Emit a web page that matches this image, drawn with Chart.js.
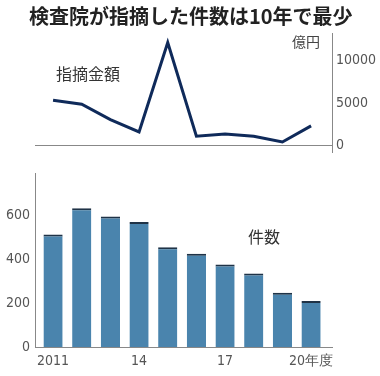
<!DOCTYPE html>
<html>
<head>
<meta charset="utf-8">
<script src="https://cdn.jsdelivr.net/npm/chart.js@4/dist/chart.umd.min.js"></script>
<style>
  body { margin: 0; background: #fff; width: 380px; height: 376px; position: relative; overflow: hidden; font-family: "Noto Sans CJK JP", sans-serif; }
  .txt { position: absolute; white-space: nowrap; color: #333; }
  #title { left: 29px; top: 1px; font-size: 20px; font-weight: bold; color: #222; }
  #unit { left: 292px; top: 31px; font-size: 14px; color: #444; }
  #lbl1 { left: 56px; top: 61px; font-size: 16px; color: #333; }
  #lbl2 { left: 248px; top: 224px; font-size: 16px; color: #333; }
  #c1 { position: absolute; left: 0; top: 0; }
  #c2 { position: absolute; left: 0; top: 160px; }
</style>
</head>
<body>
<canvas id="c1" width="380" height="165"></canvas>
<canvas id="c2" width="380" height="216"></canvas>
<div class="txt" id="title">検査院が指摘した件数は10年で最少</div>
<div class="txt" id="unit">億円</div>
<div class="txt" id="lbl1">指摘金額</div>
<div class="txt" id="lbl2">件数</div>
<script>
// 年度 2011〜2020
var years = ["2011", "12", "13", "14", "15", "16", "17", "18", "19", "20"];
var tickLabels = {0: "2011", 3: "14", 6: "17", 9: "20年度"};
var kingaku = [5330, 4860, 3040, 1580, 12170, 1070, 1340, 1070, 390, 2290]; // 億円
var kensu = [512, 631, 594, 569, 454, 424, 375, 334, 247, 209];

var tickFont = { family: "'Liberation Sans Narrow', 'DejaVu Sans Condensed', 'Roboto', sans-serif", size: 14 };
var gray = '#555';

var pts1 = kingaku.map(function (v, i) { return { x: i, y: v }; });
var pts2 = kensu.map(function (v, i) { return { x: i, y: v }; });

// 0の横線
var zeroLine = {
  id: 'zeroLine',
  beforeDatasetsDraw: function (chart) {
    var c = chart.ctx, a = chart.chartArea;
    var y = Math.round(chart.scales.y.getPixelForValue(0));
    c.save();
    c.strokeStyle = '#888';
    c.lineWidth = 1;
    c.beginPath();
    c.moveTo(a.left, y + 0.5);
    c.lineTo(a.right, y + 0.5);
    c.stroke();
    c.restore();
  }
};

new Chart(document.getElementById('c1'), {
  type: 'line',
  data: {
    datasets: [{
      data: pts1,
      borderColor: '#0f2a5a',
      borderWidth: 3,
      pointRadius: 0,
      tension: 0,
      borderJoinStyle: 'miter'
    }]
  },
  options: {
    responsive: false,
    animation: false,
    layout: { padding: { left: 35, top: 33, bottom: 13, right: 0 } },
    plugins: { legend: { display: false }, tooltip: { enabled: false } },
    scales: {
      x: { type: 'linear', min: -0.63, max: 9.73, display: false },
      y: {
        position: 'right',
        min: -800,
        max: 13300,
        afterFit: function (s) { s.width = 48; },
        afterBuildTicks: function (s) { s.ticks = [{ value: 0 }, { value: 5000 }, { value: 10000 }]; },
        grid: { display: false, drawTicks: false },
        border: { display: true, color: '#888', width: 1 },
        ticks: { color: gray, font: tickFont, padding: 4, callback: function (v) { return String(v); } }
      }
    }
  },
  plugins: [zeroLine]
});

new Chart(document.getElementById('c2'), {
  type: 'bar',
  data: {
    datasets: [{
      data: pts2,
      backgroundColor: '#4a84ad',
      borderColor: '#1f3347',
      borderWidth: { top: 2, left: 0, right: 0, bottom: 0 },
      borderSkipped: false,
      categoryPercentage: 1,
      barPercentage: 0.67
    }]
  },
  options: {
    responsive: false,
    animation: false,
    layout: { padding: { left: 0, top: 8, bottom: 0, right: 48 } },
    plugins: { legend: { display: false }, tooltip: { enabled: false } },
    scales: {
      x: {
        type: 'linear', min: -0.63, max: 9.73, offset: false,
        afterFit: function (s) { s.height = 29; },
        afterBuildTicks: function (s) { s.ticks = [{ value: 0 }, { value: 3 }, { value: 6 }, { value: 9 }]; },
        grid: { display: false, drawTicks: false },
        border: { display: true, color: '#888', width: 1 },
        ticks: {
          color: gray, font: tickFont, padding: 6, maxRotation: 0, autoSkip: false,
          callback: function (v) { return tickLabels[v]; }
        }
      },
      y: {
        min: 0,
        max: 790,
        afterFit: function (s) { s.width = 35; },
        afterBuildTicks: function (s) { s.ticks = [0, 200, 400, 600].map(function (v) { return { value: v }; }); },
        grid: { display: false, drawTicks: false },
        border: { display: true, color: '#888', width: 1 },
        ticks: { color: gray, font: tickFont, padding: 5 }
      }
    }
  }
});
</script>
</body>
</html>
